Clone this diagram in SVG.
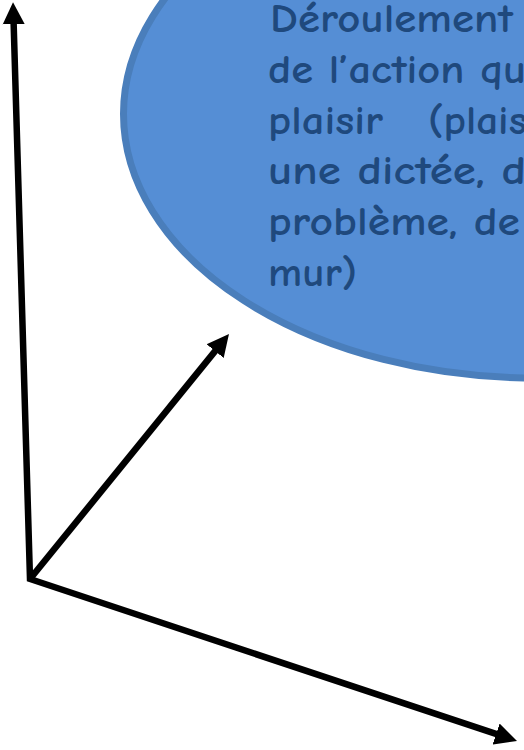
<svg xmlns="http://www.w3.org/2000/svg" width="524" height="750" viewBox="0 0 524 750">
  <style>
    .bubble { fill: #558ED5; stroke: #4A7EBB; stroke-width: 7; }
    .label { font-family: "Comic Sans MS", "Comic Neue", "Noto Sans", "DejaVu Sans", sans-serif; font-size: 41px; font-weight: bold; fill: #1F497D; }
    .axis { fill: none; stroke: #000000; stroke-width: 6.5; stroke-linejoin: miter; }
  </style>
  <defs>
    <marker id="head" viewBox="0 0 10 10" refX="1" refY="5" markerUnits="userSpaceOnUse" markerWidth="22" markerHeight="23" orient="auto-start-reverse">
      <path d="M0,0 L10,5 L0,10 Z" fill="#000000"/>
    </marker>
  </defs>
  <rect width="524" height="750" fill="#FFFFFF"/>
  <g id="node-action">
    <ellipse class="bubble" cx="535" cy="114" rx="411.5" ry="264"/>
    <text class="label">
      <tspan x="270" y="32" textLength="243" lengthAdjust="spacingAndGlyphs">Déroulement</tspan>
      <tspan x="268" y="83" textLength="258" lengthAdjust="spacingAndGlyphs">de l’action qu</tspan>
      <tspan x="268" y="134" textLength="115" lengthAdjust="spacingAndGlyphs">plaisir</tspan>
      <tspan x="428" y="134" textLength="99" lengthAdjust="spacingAndGlyphs">(plais</tspan>
      <tspan x="268" y="184" textLength="258" lengthAdjust="spacingAndGlyphs">une dictée, d</tspan>
      <tspan x="268" y="235" textLength="252" lengthAdjust="spacingAndGlyphs">problème, de</tspan>
      <tspan x="268" y="286" textLength="89" lengthAdjust="spacingAndGlyphs">mur)</tspan>
    </text>
  </g>
  <g id="connectors">
    <path class="axis" d="M13.6,22 L30,579 L498.2,734.7" marker-start="url(#head)" marker-end="url(#head)"/>
    <path class="axis" d="M30,579 L216.5,349.4" marker-end="url(#head)"/>
  </g>
</svg>
